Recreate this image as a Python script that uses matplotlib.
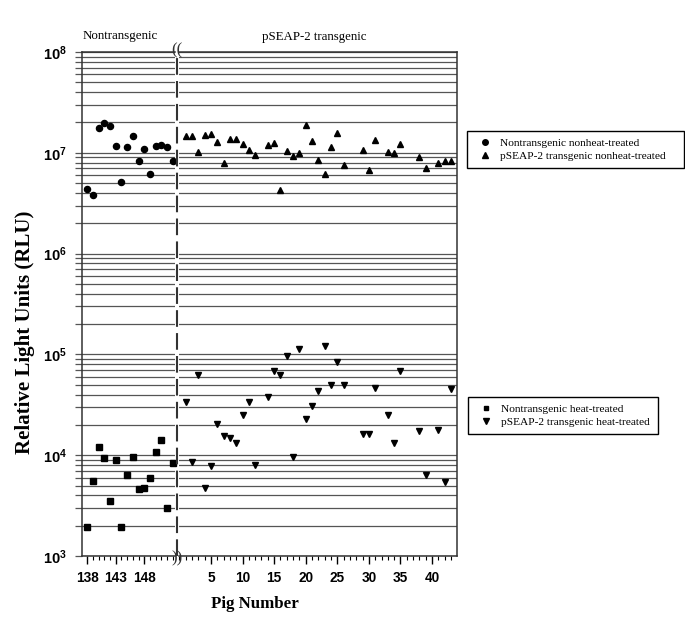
import math
import matplotlib.pyplot as plt
import matplotlib.ticker as mticker
from matplotlib.lines import Line2D

plt.rcParams['mathtext.fontset'] = 'custom'
plt.rcParams['mathtext.rm'] = 'Liberation Sans:bold'
plt.rcParams['mathtext.it'] = 'Liberation Sans:bold'
plt.rcParams['mathtext.bf'] = 'Liberation Sans:bold'

# Nontransgenic pigs (138 - 153)
ntg_pigs = list(range(138, 154))
ntg_nonheat = [4.4e6, 3.8e6, 1.78e7, 1.98e7, 1.85e7, 1.16e7, 5.1e6, 1.15e7,
               1.47e7, 8.2e6, 1.09e7, 6.2e6, 1.18e7, 1.19e7, 1.14e7, 8.2e6]
ntg_heat = [1.95e3, 5.5e3, 1.21e4, 9.4e3, 3.5e3, 9.0e3, 1.96e3, 6.3e3,
            9.5e3, 4.6e3, 4.7e3, 5.9e3, 1.07e4, 1.42e4, 3.0e3, 8.4e3]

# pSEAP-2 transgenic pigs
tg_pigs = [1, 2, 3, 4, 5, 6, 7, 8, 9, 10, 11, 12, 14, 15, 16, 17, 18, 19, 20,
           21, 22, 23, 24, 25, 26, 29, 30, 31, 33, 34, 35, 38, 39, 41, 42, 43]
tg_nonheat = [1.46e7, 1.46e7, 1.02e7, 1.49e7, 1.53e7, 1.27e7, 8.0e6, 1.37e7,
              1.36e7, 1.23e7, 1.07e7, 9.5e6, 1.19e7, 1.25e7, 4.25e6, 1.04e7,
              9.4e6, 9.9e6, 1.9e7, 1.32e7, 8.4e6, 6.1e6, 1.13e7, 1.57e7,
              7.5e6, 1.06e7, 6.7e6, 1.33e7, 1.03e7, 1.0e7, 1.22e7, 9.1e6,
              7.0e6, 8.0e6, 8.2e6, 8.3e6]
tg_heat = [3.37e4, 8.5e3, 6.2e4, 4.7e3, 7.9e3, 2.03e4, 1.55e4, 1.48e4,
           1.33e4, 2.49e4, 3.35e4, 8.0e3, 3.78e4, 6.8e4, 6.2e4, 9.6e4,
           9.5e3, 1.13e5, 2.27e4, 3.06e4, 4.34e4, 1.2e5, 4.97e4, 8.5e4,
           4.97e4, 1.64e4, 1.61e4, 4.6e4, 2.53e4, 1.32e4, 6.8e4, 1.75e4,
           6.4e3, 1.79e4, 5.4e3, 4.5e4]

W, H = 685, 637
fig = plt.figure(figsize=(W / 100, H / 100), dpi=100)


def px(x0, y0, x1, y1):
    return [x0 / W, 1 - y1 / H, (x1 - x0) / W, (y1 - y0) / H]


axL = fig.add_axes(px(82, 52, 175, 556))
axR = fig.add_axes(px(179, 52, 457, 556))

axL.plot(ntg_pigs, ntg_nonheat, 'o', color='black', ms=4.4, clip_on=False)
axL.plot(ntg_pigs, ntg_heat, 's', color='black', ms=3.8, clip_on=False)
axR.plot(tg_pigs, tg_nonheat, '^', color='black', ms=4.6, clip_on=False)
axR.plot(tg_pigs, tg_heat, 'v', color='black', ms=4.6, clip_on=False)

grid_col = '#555555'
for ax in (axL, axR):
    ax.set_yscale('log')
    ax.set_ylim(1e3, 1e8)
    ax.yaxis.set_minor_locator(mticker.LogLocator(base=10, subs=range(2, 10)))
    ax.grid(True, which='both', axis='y', color=grid_col, lw=0.9)
    ax.set_axisbelow(True)
    ax.xaxis.set_minor_locator(mticker.MultipleLocator(1))
    ax.tick_params(axis='x', which='major', length=6, width=1, pad=5)
    ax.tick_params(axis='x', which='minor', length=3, width=0.8)
    for s in ax.spines.values():
        s.set_color('#333333')
        s.set_linewidth(1.1)

axL.set_xlim(137.07, 153.4)
axL.set_xticks([138, 143, 148])
axL.spines['right'].set_visible(False)
axL.yaxis.set_major_locator(mticker.LogLocator(base=10, numticks=10))
axL.yaxis.set_major_formatter(mticker.FuncFormatter(
    lambda v, p: r'$\mathbf{10^{%d}}$' % round(math.log10(v))))
axL.yaxis.set_minor_formatter(mticker.NullFormatter())
axL.tick_params(axis='y', which='both', length=5, width=0.9, color=grid_col,
                labelsize=10.5, pad=6)

axR.set_xlim(-0.06, 43.95)
axR.set_xticks([5, 10, 15, 20, 25, 30, 35, 40])
axR.spines['left'].set_visible(False)
axR.tick_params(axis='y', which='both', length=0, labelleft=False)

for ax in (axL, axR):
    for lab in ax.get_xticklabels():
        lab.set_fontfamily('Liberation Sans')
        lab.set_fontweight('bold')
        lab.set_fontsize(9.8)

# broken-axis dashed divider and break marks
fig.add_artist(Line2D([177 / W, 177 / W], [1 - 556 / H, 1 - 52 / H],
                      color='#333333', lw=1.5, ls=(0, (8, 3))))
fig.text(177 / W, 1 - 50 / H, '((', ha='center', va='center', fontsize=12,
         family='Liberation Serif', color='#333333')
fig.text(177 / W, 1 - 558 / H, '))', ha='center', va='center', fontsize=12,
         family='Liberation Serif', color='#333333')

serif = 'Liberation Serif'
fig.text(83 / W, 1 - 36 / H, 'Nontransgenic', ha='left', va='center',
         fontsize=9.4, family=serif)
fig.text(314 / W, 1 - 37 / H, 'pSEAP-2 transgenic', ha='center', va='center',
         fontsize=9.3, family=serif)
fig.text(25 / W, 1 - 332 / H, 'Relative Light Units (RLU)', rotation=90,
         ha='center', va='center', fontsize=15, fontweight='bold', family=serif)
fig.text(255 / W, 1 - 604 / H, 'Pig Number', ha='center', va='center',
         fontsize=12.2, fontweight='bold', family=serif)

# legends
leg_kw = dict(loc='upper left', mode='expand', borderaxespad=0,
              prop={'family': serif, 'size': 8.2}, fancybox=False,
              edgecolor='black', framealpha=1, handlelength=2.0,
              handletextpad=0.3, labelspacing=0.3, borderpad=0.6)
h1 = [Line2D([], [], ls='', marker='o', color='black', ms=4),
      Line2D([], [], ls='', marker='^', color='black', ms=4)]
leg1 = fig.legend(h1, ['Nontransgenic nonheat-treated',
                       'pSEAP-2 transgenic nonheat-treated'],
                  bbox_to_anchor=(467 / W, 1 - 174 / H, 217 / W, 43 / H),
                  **leg_kw)
leg1.get_frame().set_linewidth(1.0)
h2 = [Line2D([], [], ls='', marker='s', color='black', ms=3.5),
      Line2D([], [], ls='', marker='v', color='black', ms=4)]
leg2 = fig.legend(h2, ['Nontransgenic heat-treated',
                       'pSEAP-2 transgenic heat-treated'],
                  bbox_to_anchor=(468 / W, 1 - 440 / H, 190 / W, 43 / H),
                  **leg_kw)
leg2.get_frame().set_linewidth(1.0)

fig.savefig('out.png', dpi=100)
